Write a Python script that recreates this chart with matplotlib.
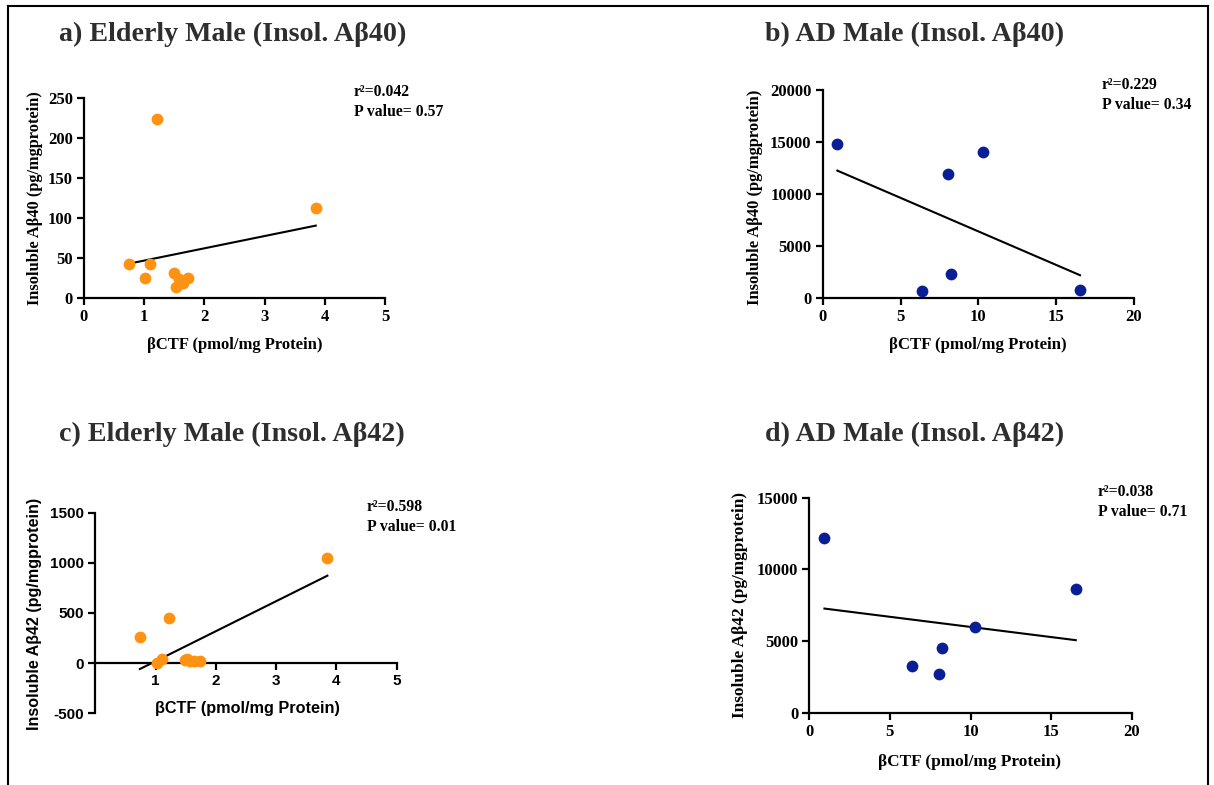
import matplotlib.pyplot as plt
import numpy as np
from matplotlib.lines import Line2D

# datos
elderly_ctf = [0.74, 1.02, 1.10, 1.22, 1.49, 1.52, 1.57, 1.64, 1.73, 3.85]
elderly_ab40 = [42, 25, 42, 224, 31, 14, 24, 19, 25, 112]
elderly_ab42 = [259, 6, 46, 451, 33, 40, 25, 20, 20, 1052]

ad_ctf = [0.94, 6.40, 8.07, 8.22, 10.28, 16.53]
ad_ab40 = [14816, 704, 11968, 2304, 14080, 832]
ad_ab42 = [12209, 3256, 2698, 4488, 6000, 8605]

titles = ['a) Elderly Male (Insol. A\u03b240)', 'b) AD Male (Insol. A\u03b240)',
          'c) Elderly Male (Insol. A\u03b242)', 'd) AD Male (Insol. A\u03b242)']
stats = ['r\u00b2=0.042\nP value= 0.57', 'r\u00b2=0.229\nP value= 0.34',
         'r\u00b2=0.598\nP value= 0.01', 'r\u00b2=0.038\nP value= 0.71']
xlabel = '\u03b2CTF (pmol/mg Protein)'
ylabels = ['Insoluble A\u03b240 (pg/mgprotein)', 'Insoluble A\u03b240 (pg/mgprotein)',
           'Insoluble A\u03b242 (pg/mgprotein)', 'Insoluble A\u03b242 (pg/mgprotein)']

ORANGE = '#ff9212'
BLUE = '#0a1f96'
SERIF = 'Liberation Serif'
SANS = 'Liberation Sans'

plt.rcParams['axes.unicode_minus'] = False

W, H = 1214, 785
fig = plt.figure(figsize=(W / 100, H / 100), dpi=100)

def px(x, y):
    # pixeles de la imagen -> coordenadas de figura
    return x / W, 1 - y / H

def make_axes(x0, x1, y_top, y_bot):
    return fig.add_axes([x0 / W, 1 - y_bot / H, (x1 - x0) / W, (y_bot - y_top) / H])

def style(ax, family, size):
    for s in ['top', 'right']:
        ax.spines[s].set_visible(False)
    for s in ['left', 'bottom']:
        ax.spines[s].set_linewidth(1.6)
    ax.tick_params(width=1.6, length=5, pad=3, labelsize=size)
    for lab in ax.get_xticklabels() + ax.get_yticklabels():
        lab.set_fontfamily(family)
        lab.set_fontweight('bold')

def panel(ax, x, y, color, xlim, ylim, xticks, yticks):
    ax.scatter(x, y, s=72, color=color, zorder=3, clip_on=False, linewidths=0)
    m, b = np.polyfit(x, y, 1)
    xx = np.array([min(x), max(x)])
    ax.plot(xx, m * xx + b, color='black', lw=1.5, zorder=2, clip_on=False)
    ax.set_xlim(*xlim)
    ax.set_ylim(*ylim)
    ax.set_xticks(xticks)
    ax.set_yticks(yticks)

# a)
ax_a = make_axes(84, 385, 98, 298)
panel(ax_a, elderly_ctf, elderly_ab40, ORANGE, (0, 5), (0, 250),
      range(0, 6), range(0, 251, 50))
style(ax_a, SERIF, 12)

# b)
ax_b = make_axes(822.7, 1134, 90, 298.3)
panel(ax_b, ad_ctf, ad_ab40, BLUE, (0, 20), (0, 20000),
      range(0, 21, 5), range(0, 20001, 5000))
style(ax_b, SERIF, 12)

# c)
ax_c = make_axes(95.3, 396.7, 512.7, 713.3)
panel(ax_c, elderly_ctf, elderly_ab42, ORANGE, (0, 5), (-500, 1500),
      range(1, 6), range(-500, 1501, 500))
ax_c.spines['bottom'].set_position(('data', 0))
style(ax_c, SANS, 11)

# d)
ax_d = make_axes(809.3, 1131.7, 497.7, 712.7)
panel(ax_d, ad_ctf, ad_ab42, BLUE, (0, 20), (0, 15000),
      range(0, 21, 5), range(0, 15001, 5000))
style(ax_d, SERIF, 12)

# titulos
for t, (x, y) in zip(titles, [(59, 34), (765, 34), (59, 434), (765, 434)]):
    fig.text(*px(x, y), t, family=SERIF, weight='bold', size=20.2,
             color='#2e2e2e', ha='left', va='center')

# r2 y valor P
for s, (x, y) in zip(stats, [(354, 102), (1102, 95), (367, 517), (1098, 502)]):
    fig.text(*px(x, y), s, family=SERIF, weight='bold', size=11.3,
             color='black', ha='left', va='center', linespacing=1.35)

# etiquetas de ejes
for lab, fam, size, (x, y) in zip(ylabels, [SERIF, SERIF, SANS, SERIF],
                                  [11.8, 11.9, 11.6, 12.4],
                                  [(35, 198), (755, 197), (35, 614), (740, 605)]):
    fig.text(*px(x, y), lab, family=fam, weight='bold', size=size,
             rotation=90, ha='center', va='center')
for fam, size, (x, y) in zip([SERIF, SERIF, SANS, SERIF], [12, 12.1, 11.7, 12.4],
                             [(235, 345), (978, 345), (247, 708), (970, 762)]):
    fig.text(*px(x, y), xlabel, family=fam, weight='bold', size=size,
             ha='center', va='center')

# marco exterior
for xs, ys in [([8, 8], [785, 6]), ([8, 1208], [6, 6]), ([1208, 1208], [6, 785])]:
    fig.add_artist(Line2D([x / W for x in xs], [1 - y / H for y in ys],
                          color='black', lw=1.5))

fig.savefig('out.png', dpi=100)
